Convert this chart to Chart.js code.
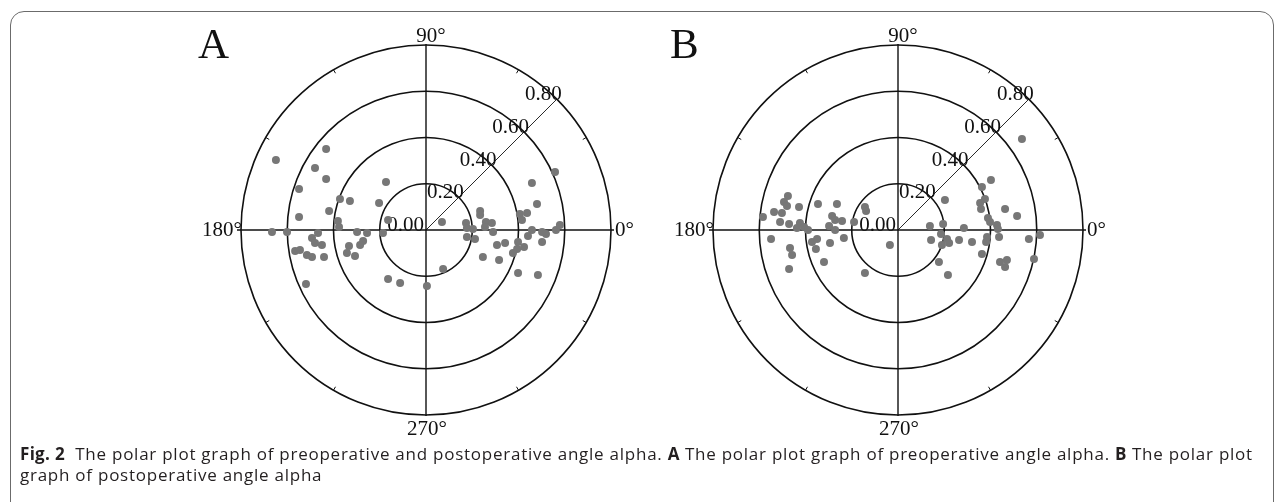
<!DOCTYPE html>
<html>
<head>
<meta charset="utf-8">
<script src="https://cdn.jsdelivr.net/npm/chart.js@4/dist/chart.umd.min.js"></script>
<style>
  html, body { margin: 0; padding: 0; background: #fff; }
  body { width: 1284px; height: 502px; position: relative; overflow: hidden; }
  .frame {
    position: absolute; left: 10px; top: 11px; width: 1262px; height: 530px;
    border: 1.5px solid #6b6b6b; border-radius: 14px;
  }
  canvas { position: absolute; }
  #chartA { left: 181px; top: 15px; }
  #chartB { left: 653px; top: 15px; }
  .caption {
    position: absolute; left: 20px; top: 443px;
    font-family: "Open Sans", sans-serif; font-size: 17px; line-height: 21px;
    letter-spacing: 0.75px;
    color: #231f20; white-space: nowrap;
  }
  .caption b { font-weight: 700; letter-spacing: 0.3px; }
</style>
</head>
<body>
<div class="frame"></div>
<canvas id="chartA" width="490" height="430"></canvas>
<canvas id="chartB" width="490" height="430"></canvas>
<div class="caption"><b>Fig. 2</b>&nbsp; The polar plot graph of preoperative and postoperative angle alpha. <b>A</b> The polar plot graph of preoperative angle alpha. <b>B</b> The polar plot<br>graph of postoperative angle alpha</div>

<script>
// angle alpha, horizontal (x) and vertical (y) components
const preX = [-0.649, -0.432, -0.480, -0.432, -0.549, -0.173, -0.372, -0.329, -0.203, -0.419, -0.549, -0.381, -0.376, -0.164,
  -0.666, -0.601, -0.467, -0.493, -0.480, -0.450, -0.566, -0.545, -0.515, -0.493, -0.441, -0.519, -0.298, -0.255, -0.186, -0.333, -0.342, -0.307, -0.272, -0.285,
  -0.164, -0.112, 0.004, 0.074,
  0.069, 0.234, 0.234, 0.259, 0.285, 0.255, 0.173, 0.177, 0.203, 0.290, 0.177, 0.212, 0.307, 0.342, 0.246, 0.316, 0.398, 0.394, 0.376, 0.424,
  0.406, 0.437, 0.415, 0.480, 0.458, 0.558, 0.458, 0.441, 0.502, 0.519, 0.502, 0.562, 0.579, 0.398, 0.484];
const preY = [0.303, 0.350, 0.268, 0.221, 0.177, 0.208, 0.134, 0.125, 0.117, 0.082, 0.056, 0.039, 0.013, 0.043,
  -0.009, -0.009, -0.013, -0.035, -0.056, -0.065, -0.091, -0.086, -0.108, -0.117, -0.117, -0.234, -0.009, -0.013, -0.013, -0.069, -0.099, -0.112, -0.048, -0.065,
  -0.212, -0.229, -0.242, -0.169,
  0.035, 0.082, 0.065, 0.035, 0.030, 0.013, 0.030, 0.009, 0.004, -0.009, -0.030, -0.039, -0.065, -0.056, -0.117, -0.130, -0.052, -0.082, -0.099, -0.074,
  0.069, 0.074, 0.043, 0.112, 0.203, 0.251, 0.000, -0.026, -0.009, -0.017, -0.052, 0.000, 0.022, -0.186, -0.195];

const postX = [0.536, 0.402, 0.363, 0.376, 0.355, 0.359, 0.463, 0.515, 0.203, 0.389, 0.398, 0.428, 0.432, 0.285, 0.138, 0.195,
  0.143, 0.186, 0.190, 0.212, 0.221, 0.264, 0.320, 0.385, 0.381, 0.437, 0.566, 0.614, 0.363, 0.177, 0.216, 0.441, 0.471, 0.463, 0.588, -0.035,
  -0.476, -0.493, -0.480, -0.536, -0.502, -0.584, -0.428, -0.346, -0.264, -0.143, -0.138, -0.510, -0.471, -0.424, -0.406, -0.437, -0.389, -0.285, -0.272, -0.298, -0.272, -0.242, -0.190,
  -0.549, -0.467, -0.458, -0.471, -0.372, -0.350, -0.355, -0.294, -0.234, -0.320, -0.143];
const postY = [0.394, 0.216, 0.186, 0.134, 0.117, 0.091, 0.091, 0.061, 0.130, 0.052, 0.035, 0.022, 0.004, 0.009, 0.017, 0.026,
  -0.043, -0.017, -0.065, -0.039, -0.056, -0.043, -0.052, -0.030, -0.052, -0.030, -0.039, -0.022, -0.104, -0.138, -0.195, -0.138, -0.130, -0.160, -0.125, -0.065,
  0.147, 0.121, 0.104, 0.078, 0.074, 0.056, 0.099, 0.112, 0.112, 0.099, 0.082, 0.035, 0.026, 0.030, 0.013, 0.009, 0.000, 0.061, 0.043, 0.017, 0.000, 0.039, 0.035,
  -0.039, -0.078, -0.108, -0.169, -0.052, -0.039, -0.082, -0.056, -0.035, -0.138, -0.186];

const ringTicks = [0, 0.2, 0.4, 0.6, 0.8];
const angleTicks = [0, 90, 180, 270];
const angleLabels = ['0°', '90°', '180°', '270°'];
const minorAngles = [30, 60, 120, 150, 210, 240, 300, 330];

const serif = '"Liberation Serif", "Times New Roman", serif';

// draws the polar grid (rings, axes, labels) under the points
const polarGrid = {
  id: 'polarGrid',
  beforeDatasetsDraw(chart, args, opts) {
    const ctx = chart.ctx;
    const xs = chart.scales.x, ys = chart.scales.y;
    const cx = xs.getPixelForValue(0), cy = ys.getPixelForValue(0);
    const rad = v => xs.getPixelForValue(v) - cx;
    const R = rad(ringTicks[ringTicks.length - 1]);
    ctx.save();
    ctx.strokeStyle = '#111';

    // rings
    ctx.lineWidth = 1.6;
    ringTicks.forEach(v => {
      if (v <= 0) return;
      ctx.beginPath();
      ctx.arc(cx, cy, rad(v), 0, Math.PI * 2);
      ctx.stroke();
    });

    // main axes
    ctx.lineWidth = 1.4;
    ctx.beginPath();
    ctx.moveTo(cx - R - 4, cy); ctx.lineTo(cx + R + 3, cy);
    ctx.moveTo(cx, cy - R - 1); ctx.lineTo(cx, cy + R + 1);
    ctx.stroke();

    // 45 degree radial line
    ctx.lineWidth = 0.9;
    ctx.beginPath();
    ctx.moveTo(cx, cy);
    ctx.lineTo(cx + R * Math.cos(Math.PI / 4), cy - R * Math.sin(Math.PI / 4));
    ctx.stroke();

    // small ticks on the outer ring
    ctx.lineWidth = 1;
    minorAngles.forEach(a => {
      const t = a * Math.PI / 180;
      ctx.beginPath();
      ctx.moveTo(cx + (R - 4) * Math.cos(t), cy - (R - 4) * Math.sin(t));
      ctx.lineTo(cx + R * Math.cos(t), cy - R * Math.sin(t));
      ctx.stroke();
    });

    // ring labels along the 45 degree line
    ctx.fillStyle = '#111';
    ctx.font = '21px ' + serif;
    ctx.textAlign = 'right';
    ctx.textBaseline = 'alphabetic';
    ringTicks.forEach(v => {
      const r = rad(v);
      const px = cx + r * Math.cos(Math.PI / 4);
      const py = cy - r * Math.sin(Math.PI / 4);
      ctx.fillText(v.toFixed(2), px + (v === 0 ? -2 : 5), py + 1);
    });

    // angle labels
    angleTicks.forEach((a, i) => {
      const txt = angleLabels[i];
      if (a === 0) {
        ctx.textAlign = 'left';
        ctx.fillText(txt, cx + R + 4, cy + 6);
      } else if (a === 90) {
        ctx.textAlign = 'center';
        ctx.fillText(txt, cx + 5, cy - R - 3);
      } else if (a === 180) {
        ctx.textAlign = 'right';
        ctx.fillText(txt, cx - R + 1, cy + 6);
      } else {
        ctx.textAlign = 'center';
        ctx.fillText(txt, cx + 1, cy + R + 20);
      }
    });

    // panel letter
    ctx.textAlign = 'left';
    ctx.font = '43px ' + serif;
    ctx.fillText(opts.panel, chart.chartArea.left - 43, chart.chartArea.top + 13);
    ctx.restore();
  }
};

function toPoints(xs, ys) {
  return xs.map((v, i) => ({ x: v, y: ys[i] }));
}

function makeChart(id, panel, xs, ys) {
  const ctx = document.getElementById(id).getContext('2d');
  return new Chart(ctx, {
    type: 'scatter',
    data: {
      datasets: [{
        data: toPoints(xs, ys),
        backgroundColor: '#777777',
        borderWidth: 0,
        pointRadius: 4,
        pointHoverRadius: 4
      }]
    },
    options: {
      responsive: false,
      animation: false,
      layout: { padding: { left: 60, right: 60, top: 30, bottom: 30 } },
      scales: {
        x: { type: 'linear', min: -0.8, max: 0.8, display: false },
        y: { type: 'linear', min: -0.8, max: 0.8, display: false }
      },
      plugins: {
        legend: { display: false },
        tooltip: { enabled: false },
        polarGrid: { panel: panel }
      }
    },
    plugins: [polarGrid]
  });
}

document.addEventListener('DOMContentLoaded', function () {
  makeChart('chartA', 'A', preX, preY);
  makeChart('chartB', 'B', postX, postY);
});
</script>
</body>
</html>
